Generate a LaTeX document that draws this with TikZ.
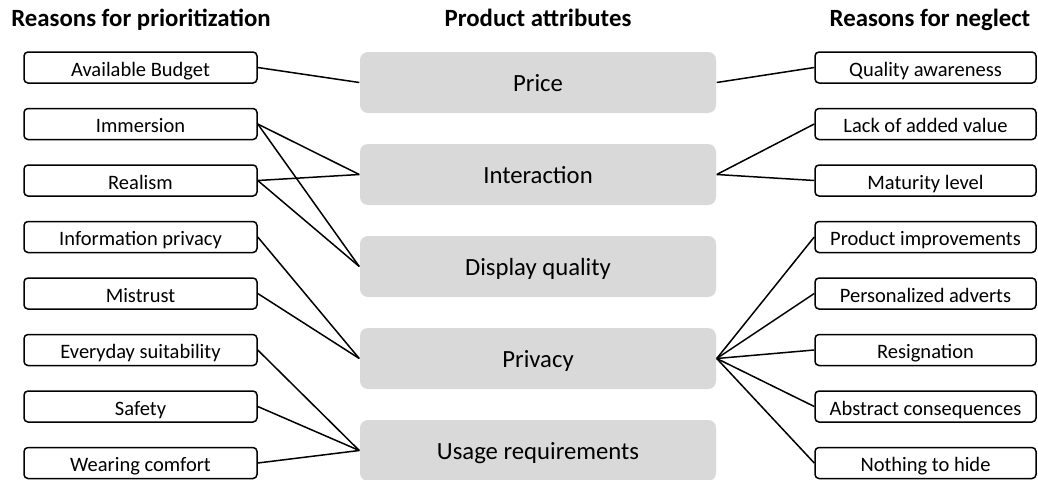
\documentclass[tikz,border=0pt]{standalone}
\usepackage{fontspec}
\setmainfont{Carlito}
\usepackage{xcolor}
\usepackage{tikz}
\usetikzlibrary{positioning}

\definecolor{attrgray}{RGB}{217,217,217}

\begin{document}
\begin{tikzpicture}[
            x=1pt, y=1pt,
            node distance=56.5pt,
            reason/.style={draw, rounded corners=4pt, minimum width=233pt, minimum height=31pt, inner sep=0pt, text height=17pt, text depth=0pt, font=\fontsize{20.5}{22}\selectfont},
            neglect/.style={reason, minimum width=221pt},
            attribute/.style={fill=attrgray, rounded corners=8pt, minimum width=356pt, minimum height=61pt, inner sep=0pt, text height=17pt, text depth=0pt, font=\fontsize{24.7}{28}\selectfont},
            heading/.style={anchor=base, font=\bfseries\fontsize{24.8}{28}\selectfont},
            line width=1.5pt
        ]
        \useasboundingbox (0,0) rectangle (1038,-479);

        % Headings
        \node[heading] (hprio) at (141,-26) {Reasons for prioritization};
        \node[heading] (hattr) at (538,-26) {Product attributes};
        \node[heading] (hneg) at (930,-26) {Reasons for neglect};

        % Nodes (left)
        \node[reason] (budget) at (140.5,-67.5) {Available Budget};
        \node[reason] (immersion) [below of=budget] {Immersion};
        \node[reason] (realism) [below of=immersion] {Realism};
        \node[reason] (infoprivacy) [below of=realism] {Information privacy};
        \node[reason] (mistrust) [below of=infoprivacy] {Mistrust};
        \node[reason] (everyday) [below of=mistrust] {Everyday suitability};
        \node[reason] (safety) [below of=everyday] {Safety};
        \node[reason] (comfort) [below of=safety] {Wearing comfort};

        % Nodes (middle)
        \node[attribute] (price) at (538,-82.5) {Price};
        \node[attribute] (interaction) [below of=price, yshift=-35.5pt] {Interaction};
        \node[attribute] (display) [below of=interaction, yshift=-35.5pt] {Display quality};
        \node[attribute] (privacy) [below of=display, yshift=-35.5pt] {Privacy};
        \node[attribute] (usage) [below of=privacy, yshift=-35.5pt] {Usage requirements};

        % Nodes (right)
        \node[neglect] (quality) at (925.5,-67.5) {Quality awareness};
        \node[neglect] (addedvalue) [below of=quality] {Lack of added value};
        \node[neglect] (maturity) [below of=addedvalue] {Maturity level};
        \node[neglect] (improve) [below of=maturity] {Product improvements};
        \node[neglect] (adverts) [below of=improve] {Personalized adverts};
        \node[neglect] (resign) [below of=adverts] {Resignation};
        \node[neglect] (abstract) [below of=resign] {Abstract consequences};
        \node[neglect] (nohide) [below of=abstract] {Nothing to hide};

        % Lines (left)
        \draw (budget.east) -- (price.west);
        \draw (immersion.east) -- (interaction.west);
        \draw (immersion.east) -- (display.west);
        \draw (realism.east) -- (interaction.west);
        \draw (realism.east) -- (display.west);
        \draw (infoprivacy.east) -- (privacy.west);
        \draw (mistrust.east) -- (privacy.west);
        \draw (everyday.east) -- (usage.west);
        \draw (safety.east) -- (usage.west);
        \draw (comfort.east) -- (usage.west);

        % Lines (right)
        \draw (price.east) -- (quality.west);
        \draw (interaction.east) -- (addedvalue.west);
        \draw (interaction.east) -- (maturity.west);
        \draw (privacy.east) -- (improve.west);
        \draw (privacy.east) -- (adverts.west);
        \draw (privacy.east) -- (resign.west);
        \draw (privacy.east) -- (abstract.west);
        \draw (privacy.east) -- (nohide.west);
        \end{tikzpicture}
\end{document}
